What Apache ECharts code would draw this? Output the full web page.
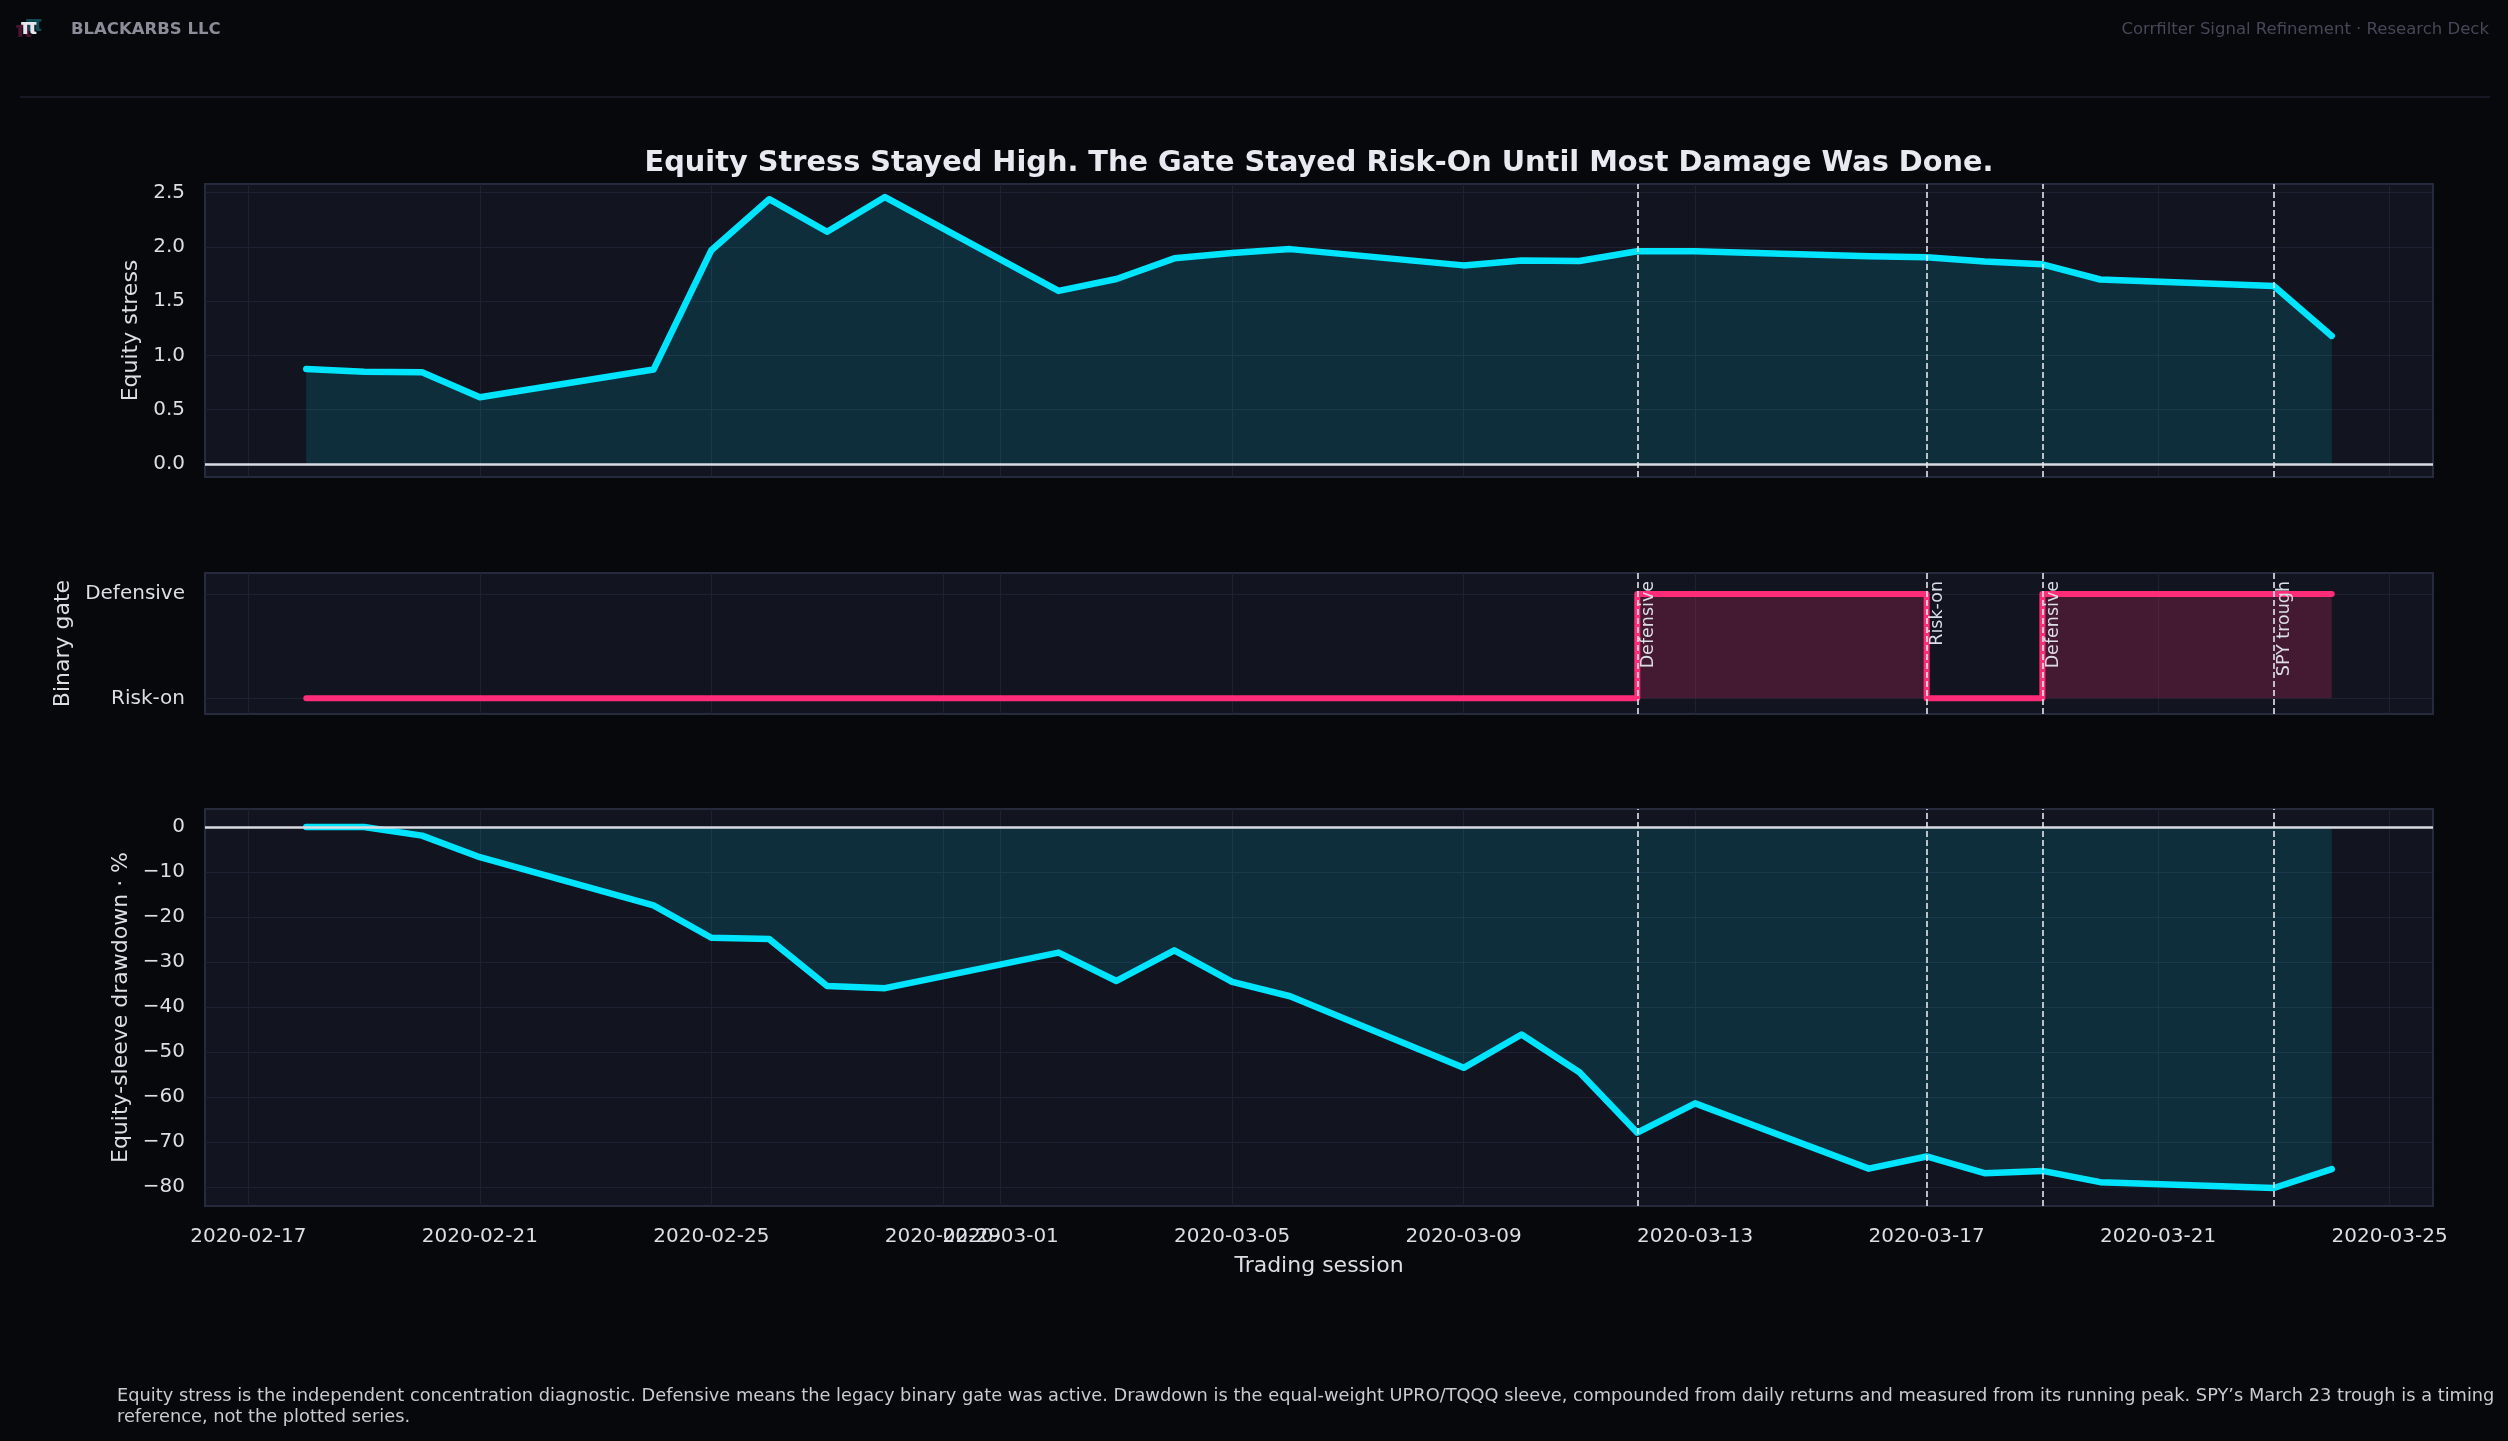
<!DOCTYPE html>
<html><head><meta charset="utf-8">
<script src="https://cdn.jsdelivr.net/npm/echarts@6/dist/echarts.min.js"></script>
<style>html,body{margin:0;padding:0;background:#07080c;}#c{width:2508px;height:1441px;}</style>
</head><body><div id="c"></div>
<script>
// ---------------- data ----------------
const sessions = ['2020-02-18','2020-02-19','2020-02-20','2020-02-21','2020-02-24','2020-02-25','2020-02-26','2020-02-27','2020-02-28',
  '2020-03-02','2020-03-03','2020-03-04','2020-03-05','2020-03-06','2020-03-09','2020-03-10','2020-03-11','2020-03-12','2020-03-13',
  '2020-03-16','2020-03-17','2020-03-18','2020-03-19','2020-03-20','2020-03-23','2020-03-24'];
const equityStress = [0.875,0.85,0.845,0.615,0.87,1.97,2.44,2.14,2.46,
  1.595,1.705,1.895,1.945,1.98,1.83,1.875,1.87,1.96,1.96,
  1.915,1.905,1.865,1.84,1.70,1.64,1.18];
const gateDefensive = [0,0,0,0,0,0,0,0,0,
  0,0,0,0,0,0,0,0,1,1,
  1,0,0,1,1,1,1];
const drawdownPct = [0,0,-1.9,-6.7,-17.4,-24.6,-24.9,-35.3,-35.8,
  -27.9,-34.2,-27.4,-34.4,-37.6,-53.5,-46.1,-54.5,-67.9,-61.4,
  -75.9,-73.2,-76.9,-76.4,-78.9,-80.2,-76.0];
const eventDates = ['2020-03-12','2020-03-17','2020-03-19','2020-03-23'];
const eventLabels = ['Defensive','Risk-on','Defensive','SPY trough'];
const xTickDates = ['2020-02-17','2020-02-21','2020-02-25','2020-02-29','2020-03-01','2020-03-05','2020-03-09','2020-03-13','2020-03-17','2020-03-21','2020-03-25'];
const stressTicks = [0,0.5,1,1.5,2,2.5];
const gateTicks = [0,1];
const gateTickLabels = ['Risk-on','Defensive'];
const drawdownTicks = [-80,-70,-60,-50,-40,-30,-20,-10,0];

// ---------------- helpers ----------------
const DAY = 86400000;
const ts = d => Date.parse(d + 'T00:00:00Z');
const fmtDate = v => new Date(v).toISOString().slice(0,10);
const xMin = ts(sessions[0]) - 1.75*DAY;
const xMax = ts(sessions[sessions.length-1]) + 1.75*DAY;
const xTicks = xTickDates.map(ts);
const pairs = arr => sessions.map((d,i)=>[ts(d), arr[i]]);

const FONT = 'DejaVu Sans';
const TXT = '#dcdee5';
const GRIDLINE = '#1e2132';
const CYAN = '#00e5ff';
const PINK = '#ff2d78';
const grids = [
  {left:205, width:2228, top:184, height:293},
  {left:205, width:2228, top:573, height:141},
  {left:205, width:2228, top:809, height:397}
].map(g=>Object.assign(g,{show:true, backgroundColor:'#121420', borderColor:'#262a3d', borderWidth:2, outerBoundsMode:'none', containLabel:false}));

function xAxis(i, showLabels){
  return {
    gridIndex:i, type:'value', min:xMin, max:xMax,
    axisLine:{show:false},
    axisTick:{show:false, customValues:xTicks},
    axisLabel:{show:showLabels, customValues:xTicks, formatter:fmtDate, color:TXT, fontFamily:FONT, fontSize:20, margin:21, hideOverlap:false},
    splitLine:{show:true, lineStyle:{color:GRIDLINE, width:1}},
    name: showLabels ? 'Trading session' : '',
    nameLocation:'middle', nameGap:49,
    nameTextStyle:{color:TXT, fontFamily:FONT, fontSize:22}
  };
}
function yAxis(i, min, max, ticks, fmt, name, gap){
  return {
    gridIndex:i, type:'value', min, max,
    axisLine:{show:false},
    axisTick:{show:false, customValues:ticks},
    axisLabel:{customValues:ticks, formatter:fmt, color:TXT, fontFamily:FONT, fontSize:20, margin:20},
    splitLine:{show:true, lineStyle:{color:GRIDLINE, width:1}},
    name, nameLocation:'middle', nameGap:gap, nameRotate:90,
    nameTextStyle:{color:TXT, fontFamily:FONT, fontSize:22}
  };
}
function zeroLine(i){
  return {type:'line', xAxisIndex:i, yAxisIndex:i, data:[], z:2, silent:true,
    markLine:{symbol:['none','none'], silent:true, label:{show:false},
      lineStyle:{color:'#d9dbe2', width:2.5, type:'solid'}, data:[{yAxis:0}]}};
}
function eventLines(i, withLabels){
  return {type:'line', xAxisIndex:i, yAxisIndex:i, data:[], z:5, silent:true,
    markLine:{symbol:['none','none'], silent:true,
      lineStyle:{color:'#e4e6ec', width:1.6, type:[6,3]},
      label:{show:withLabels, position:'insideEndBottom', formatter:p=>p.name, color:TXT, fontFamily:FONT, fontSize:17.5, distance:[8,2]},
      data: eventDates.map((d,k)=>({name:eventLabels[k], xAxis:ts(d)}))}};
}

const option = {
  backgroundColor:'#07080c',
  animation:false,
  grid: grids,
  xAxis:[xAxis(0,false), xAxis(1,false), xAxis(2,true)],
  yAxis:[
    yAxis(0,-0.12,2.58,stressTicks,v=>v.toFixed(1),'Equity stress',55),
    yAxis(1,-0.15,1.2,gateTicks,v=>gateTickLabels[gateTicks.indexOf(v)],'Binary gate',126),
    yAxis(2,-84.2,4.01,drawdownTicks,v=>v===0?'0':'\u2212'+Math.abs(v),'Equity-sleeve drawdown \u00b7 %',67)
  ],
  series:[
    // top panel
    {type:'line', xAxisIndex:0, yAxisIndex:0, data:pairs(equityStress), symbol:'none', z:1,
      lineStyle:{width:0}, areaStyle:{color:'rgba(0,229,255,0.18)', origin:0}},
    zeroLine(0),
    {type:'line', xAxisIndex:0, yAxisIndex:0, data:pairs(equityStress), symbol:'none', z:3,
      lineStyle:{color:CYAN, width:6.5, cap:'round', join:'round'}},
    eventLines(0,false),
    // middle panel
    {type:'line', xAxisIndex:1, yAxisIndex:1, data:pairs(gateDefensive), symbol:'none', step:'end', z:3,
      lineStyle:{color:PINK, width:6, cap:'round', join:'round'}, areaStyle:{color:'rgba(255,45,120,0.3)', origin:0}},
    eventLines(1,true),
    // bottom panel
    {type:'line', xAxisIndex:2, yAxisIndex:2, data:pairs(drawdownPct), symbol:'none', z:1,
      lineStyle:{width:0}, areaStyle:{color:'rgba(0,229,255,0.18)', origin:0}},
    zeroLine(2),
    {type:'line', xAxisIndex:2, yAxisIndex:2, data:pairs(drawdownPct), symbol:'none', z:3,
      lineStyle:{color:CYAN, width:6.5, cap:'round', join:'round'}},
    eventLines(2,false)
  ],
  graphic:[
    {type:'text', x:24, y:31, z:10, style:{text:'\u03c0', font:'bold 22px "DejaVu Sans"', fill:'#4a1430', align:'center', verticalAlign:'middle', textAlign:'center', textVerticalAlign:'middle'}},
    {type:'text', x:34, y:25, z:10, style:{text:'\u03c0', font:'bold 22px "DejaVu Sans"', fill:'#0e4b55', align:'center', verticalAlign:'middle', textAlign:'center', textVerticalAlign:'middle'}},
    {type:'text', x:29, y:28, z:11, style:{text:'\u03c0', font:'bold 22px "DejaVu Sans"', fill:'#e6e7ee', align:'center', verticalAlign:'middle', textAlign:'center', textVerticalAlign:'middle'}},
    {type:'text', x:71, y:30, z:10, style:{text:'BLACKARBS LLC', font:'bold 16.5px "DejaVu Sans"', fill:'#8b8e99', align:'left', verticalAlign:'middle', textAlign:'left', textVerticalAlign:'middle'}},
    {type:'text', x:2489, y:30, z:10, style:{text:'Corrfilter Signal Refinement \u00b7 Research Deck', font:'16.5px "DejaVu Sans"', fill:'#444857', align:'right', verticalAlign:'middle', textAlign:'right', textVerticalAlign:'middle'}},
    {type:'line', z:10, shape:{x1:20, y1:97, x2:2490, y2:97}, style:{stroke:'#1c1f2c', lineWidth:1.5}},
    {type:'text', x:1319, y:163.5, z:10, style:{text:'Equity Stress Stayed High. The Gate Stayed Risk-On Until Most Damage Was Done.', font:'bold 28.8px "DejaVu Sans"', fill:'#e8eaf1', align:'center', verticalAlign:'middle', textAlign:'center', textVerticalAlign:'middle'}},
    {type:'text', x:117, y:1385.5, z:10, style:{text:'Equity stress is the independent concentration diagnostic. Defensive means the legacy binary gate was active. Drawdown is the equal-weight UPRO/TQQQ sleeve, compounded from daily returns and measured from its running peak. SPY\u2019s March 23 trough is a timing\nreference, not the plotted series.', font:'17.8px "DejaVu Sans"', lineHeight:21, fill:'#c9cbd2', align:'left', verticalAlign:'top', textAlign:'left', textVerticalAlign:'top'}}
  ]
};
const chart = echarts.init(document.getElementById('c'), null, {renderer:'canvas'});
chart.setOption(option);
</script>
</body></html>
